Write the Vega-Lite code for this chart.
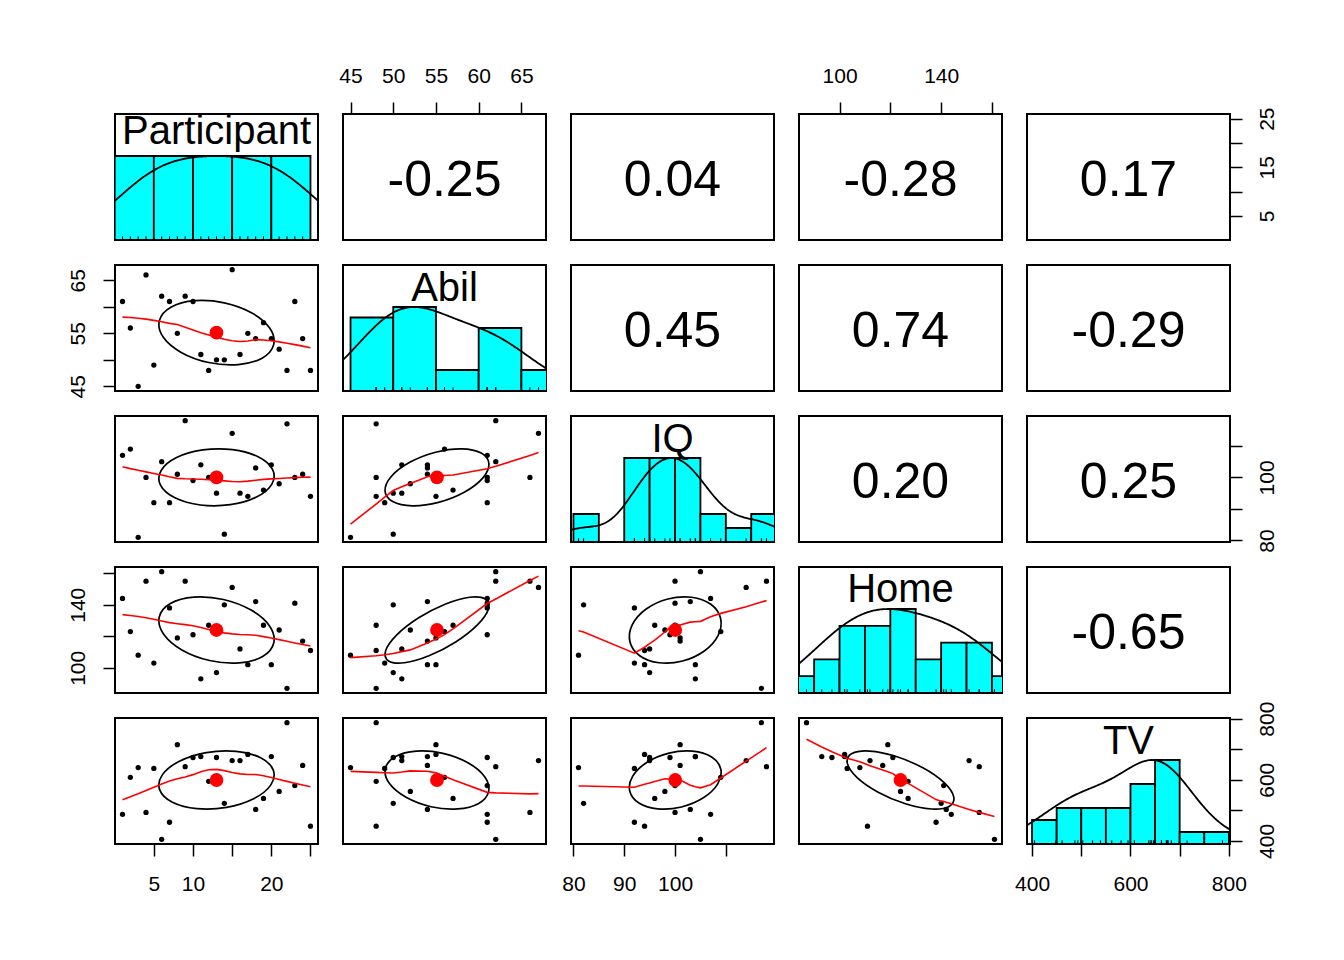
{
"$schema":"https://vega.github.io/schema/vega-lite/v6.json",
"background":"white",
"padding":{"left":65,"top":64,"right":5,"bottom":5},
"config":{"view":{"stroke":"black","strokeWidth":2},"font":"Liberation Sans",
 "axis":{"grid":false,"domain":false,"tickColor":"black","tickWidth":1.5,"tickSize":12,"labelFontSize":21,"labelColor":"black","labelFont":"Liberation Sans","labelOverlap":false,"labelFlush":false,"labelBound":false}},
"datasets":{
"d":[
{"Participant":1,"Abil":61,"IQ":107,"Home":144,"TV":487},
{"Participant":2,"Abil":56,"IQ":109,"Home":123,"TV":608},
{"Participant":3,"Abil":45,"IQ":81,"Home":108,"TV":640},
{"Participant":4,"Abil":66,"IQ":100,"Home":155,"TV":493},
{"Participant":5,"Abil":49,"IQ":92,"Home":103,"TV":637},
{"Participant":6,"Abil":62,"IQ":105,"Home":161,"TV":405},
{"Participant":7,"Abil":61,"IQ":92,"Home":138,"TV":461},
{"Participant":8,"Abil":55,"IQ":101,"Home":119,"TV":715},
{"Participant":9,"Abil":62,"IQ":118,"Home":155,"TV":643},
{"Participant":10,"Abil":61,"IQ":99,"Home":121,"TV":673},
{"Participant":11,"Abil":51,"IQ":104,"Home":93,"TV":676},
{"Participant":12,"Abil":48,"IQ":100,"Home":127,"TV":595},
{"Participant":13,"Abil":50,"IQ":95,"Home":97,"TV":673},
{"Participant":14,"Abil":50,"IQ":82,"Home":140,"TV":523},
{"Participant":15,"Abil":67,"IQ":114,"Home":151,"TV":663},
{"Participant":16,"Abil":51,"IQ":95,"Home":112,"TV":663},
{"Participant":17,"Abil":55,"IQ":94,"Home":102,"TV":683},
{"Participant":18,"Abil":54,"IQ":103,"Home":142,"TV":503},
{"Participant":19,"Abil":57,"IQ":96,"Home":127,"TV":539},
{"Participant":20,"Abil":54,"IQ":104,"Home":102,"TV":676},
{"Participant":21,"Abil":52,"IQ":98,"Home":124,"TV":562},
{"Participant":22,"Abil":48,"IQ":117,"Home":87,"TV":787},
{"Participant":23,"Abil":61,"IQ":100,"Home":141,"TV":581},
{"Participant":24,"Abil":54,"IQ":101,"Home":117,"TV":647},
{"Participant":25,"Abil":48,"IQ":94,"Home":111,"TV":448}
],
"hist":[
{"v":"Participant","b0":0,"b1":5,"n":5},{"v":"Participant","b0":5,"b1":10,"n":5},{"v":"Participant","b0":10,"b1":15,"n":5},{"v":"Participant","b0":15,"b1":20,"n":5},{"v":"Participant","b0":20,"b1":25,"n":5},
{"v":"Abil","b0":45,"b1":50,"n":7},{"v":"Abil","b0":50,"b1":55,"n":8},{"v":"Abil","b0":55,"b1":60,"n":2},{"v":"Abil","b0":60,"b1":65,"n":6},{"v":"Abil","b0":65,"b1":70,"n":2},
{"v":"IQ","b0":80,"b1":85,"n":2},{"v":"IQ","b0":90,"b1":95,"n":6},{"v":"IQ","b0":95,"b1":100,"n":6},{"v":"IQ","b0":100,"b1":105,"n":6},{"v":"IQ","b0":105,"b1":110,"n":2},{"v":"IQ","b0":110,"b1":115,"n":1},{"v":"IQ","b0":115,"b1":120,"n":2},
{"v":"Home","b0":80,"b1":90,"n":1},{"v":"Home","b0":90,"b1":100,"n":2},{"v":"Home","b0":100,"b1":110,"n":4},{"v":"Home","b0":110,"b1":120,"n":4},{"v":"Home","b0":120,"b1":130,"n":5},{"v":"Home","b0":130,"b1":140,"n":2},{"v":"Home","b0":140,"b1":150,"n":3},{"v":"Home","b0":150,"b1":160,"n":3},{"v":"Home","b0":160,"b1":170,"n":1},
{"v":"TV","b0":400,"b1":450,"n":2},{"v":"TV","b0":450,"b1":500,"n":3},{"v":"TV","b0":500,"b1":550,"n":3},{"v":"TV","b0":550,"b1":600,"n":3},{"v":"TV","b0":600,"b1":650,"n":5},{"v":"TV","b0":650,"b1":700,"n":7},{"v":"TV","b0":700,"b1":750,"n":1},{"v":"TV","b0":750,"b1":800,"n":1}
],
"lab":[
{"p":"PA","t":"-0.25"},{"p":"PI","t":"0.04"},{"p":"PH","t":"-0.28"},{"p":"PT","t":"0.17"},{"p":"AI","t":"0.45"},{"p":"AH","t":"0.74"},{"p":"AT","t":"-0.29"},{"p":"IH","t":"0.20"},{"p":"IT","t":"0.25"},{"p":"HT","t":"-0.65"},
{"p":"Participant","t":"Participant"},{"p":"Abil","t":"Abil"},{"p":"IQ","t":"IQ"},{"p":"Home","t":"Home"},{"p":"TV","t":"TV"}
],
"ell":[
{"p":"PA","k":0,"Participant":17.51,"Abil":58.84},{"p":"PA","k":1,"Participant":13.99,"Abil":60.75},{"p":"PA","k":2,"Participant":10.21,"Abil":61.15},{"p":"PA","k":3,"Participant":7.18,"Abil":59.93},{"p":"PA","k":4,"Participant":5.71,"Abil":57.42},{"p":"PA","k":5,"Participant":6.19,"Abil":54.30},{"p":"PA","k":6,"Participant":8.49,"Abil":51.40},{"p":"PA","k":7,"Participant":12.01,"Abil":49.49},{"p":"PA","k":8,"Participant":15.79,"Abil":49.10},{"p":"PA","k":9,"Participant":18.82,"Abil":50.31},{"p":"PA","k":10,"Participant":20.29,"Abil":52.82},{"p":"PA","k":11,"Participant":19.81,"Abil":55.94},
{"p":"PI","k":0,"Participant":18.31,"IQ":106.56},{"p":"PI","k":1,"Participant":15.05,"IQ":108.82},{"p":"PI","k":2,"Participant":11.24,"IQ":108.72},{"p":"PI","k":3,"Participant":7.90,"IQ":106.30},{"p":"PI","k":4,"Participant":5.93,"IQ":102.20},{"p":"PI","k":5,"Participant":5.85,"IQ":97.53},{"p":"PI","k":6,"Participant":7.69,"IQ":93.52},{"p":"PI","k":7,"Participant":10.95,"IQ":91.26},{"p":"PI","k":8,"Participant":14.76,"IQ":91.36},{"p":"PI","k":9,"Participant":18.10,"IQ":93.78},{"p":"PI","k":10,"Participant":20.07,"IQ":97.88},{"p":"PI","k":11,"Participant":20.15,"IQ":102.55},
{"p":"AI","k":0,"Abil":60.30,"IQ":107.74},{"p":"AI","k":1,"Abil":58.01,"IQ":109.08},{"p":"AI","k":2,"Abil":54.95,"IQ":107.99},{"p":"AI","k":3,"Abil":51.93,"IQ":104.78},{"p":"AI","k":4,"Abil":49.77,"IQ":100.30},{"p":"AI","k":5,"Abil":49.04,"IQ":95.74},{"p":"AI","k":6,"Abil":49.94,"IQ":92.34},{"p":"AI","k":7,"Abil":52.23,"IQ":91.00},{"p":"AI","k":8,"Abil":55.29,"IQ":92.09},{"p":"AI","k":9,"Abil":58.31,"IQ":95.30},{"p":"AI","k":10,"Abil":60.47,"IQ":99.78},{"p":"AI","k":11,"Abil":61.20,"IQ":104.34},
{"p":"PH","k":0,"Participant":17.42,"Home":136.62},{"p":"PH","k":1,"Participant":13.88,"Home":143.35},{"p":"PH","k":2,"Participant":10.11,"Home":144.89},{"p":"PH","k":3,"Participant":7.11,"Home":140.83},{"p":"PH","k":4,"Participant":5.69,"Home":132.26},{"p":"PH","k":5,"Participant":6.23,"Home":121.48},{"p":"PH","k":6,"Participant":8.58,"Home":111.38},{"p":"PH","k":7,"Participant":12.12,"Home":104.65},{"p":"PH","k":8,"Participant":15.89,"Home":103.11},{"p":"PH","k":9,"Participant":18.89,"Home":107.17},{"p":"PH","k":10,"Participant":20.31,"Home":115.74},{"p":"PH","k":11,"Participant":19.77,"Home":126.52},
{"p":"AH","k":0,"Abil":60.79,"Home":143.62},{"p":"AH","k":1,"Abil":58.94,"Home":144.79},{"p":"AH","k":2,"Abil":56.06,"Home":140.38},{"p":"AH","k":3,"Abil":52.93,"Home":131.59},{"p":"AH","k":4,"Abil":50.39,"Home":120.76},{"p":"AH","k":5,"Abil":49.11,"Home":110.80},{"p":"AH","k":6,"Abil":49.45,"Home":104.38},{"p":"AH","k":7,"Abil":51.31,"Home":103.21},{"p":"AH","k":8,"Abil":54.18,"Home":107.62},{"p":"AH","k":9,"Abil":57.31,"Home":116.41},{"p":"AH","k":10,"Abil":59.85,"Home":127.24},{"p":"AH","k":11,"Abil":61.13,"Home":137.20},
{"p":"IH","k":0,"IQ":107.04,"Home":140.30},{"p":"IH","k":1,"IQ":103.25,"Home":144.77},{"p":"IH","k":2,"IQ":98.59,"Home":143.67},{"p":"IH","k":3,"IQ":94.32,"Home":137.31},{"p":"IH","k":4,"IQ":91.59,"Home":127.38},{"p":"IH","k":5,"IQ":91.12,"Home":116.54},{"p":"IH","k":6,"IQ":93.04,"Home":107.70},{"p":"IH","k":7,"IQ":96.83,"Home":103.23},{"p":"IH","k":8,"IQ":101.49,"Home":104.33},{"p":"IH","k":9,"IQ":105.76,"Home":110.69},{"p":"IH","k":10,"IQ":108.49,"Home":120.63},{"p":"IH","k":11,"IQ":108.96,"Home":131.46},
{"p":"PT","k":0,"Participant":18.63,"TV":672.1},{"p":"PT","k":1,"Participant":15.51,"TV":693.1},{"p":"PT","k":2,"Participant":11.71,"TV":688.9},{"p":"PT","k":3,"Participant":8.26,"TV":660.6},{"p":"PT","k":4,"Participant":6.08,"TV":616.0},{"p":"PT","k":5,"Participant":5.75,"TV":566.8},{"p":"PT","k":6,"Participant":7.37,"TV":526.3},{"p":"PT","k":7,"Participant":10.50,"TV":505.4},{"p":"PT","k":8,"Participant":14.29,"TV":509.6},{"p":"PT","k":9,"Participant":17.74,"TV":537.9},{"p":"PT","k":10,"Participant":19.92,"TV":582.5},{"p":"PT","k":11,"Participant":20.25,"TV":631.7},
{"p":"AT","k":0,"Abil":58.74,"TV":656.0},{"p":"AT","k":1,"Abil":55.82,"TV":686.7},{"p":"AT","k":2,"Abil":52.70,"TV":693.9},{"p":"AT","k":3,"Abil":50.24,"TV":675.8},{"p":"AT","k":4,"Abil":49.08,"TV":637.1},{"p":"AT","k":5,"Abil":49.54,"TV":588.3},{"p":"AT","k":6,"Abil":51.50,"TV":542.5},{"p":"AT","k":7,"Abil":54.42,"TV":511.8},{"p":"AT","k":8,"Abil":57.54,"TV":504.6},{"p":"AT","k":9,"Abil":60.00,"TV":522.7},{"p":"AT","k":10,"Abil":61.16,"TV":561.4},{"p":"AT","k":11,"Abil":60.70,"TV":610.1},
{"p":"IT","k":0,"IQ":107.19,"TV":674.6},{"p":"IT","k":1,"IQ":103.46,"TV":693.7},{"p":"IT","k":2,"IQ":98.82,"TV":687.5},{"p":"IT","k":3,"IQ":94.50,"TV":657.6},{"p":"IT","k":4,"IQ":91.67,"TV":612.1},{"p":"IT","k":5,"IQ":91.08,"TV":563.2},{"p":"IT","k":6,"IQ":92.89,"TV":523.9},{"p":"IT","k":7,"IQ":96.62,"TV":504.8},{"p":"IT","k":8,"IQ":101.26,"TV":511.0},{"p":"IT","k":9,"IQ":105.58,"TV":540.9},{"p":"IT","k":10,"IQ":108.41,"TV":586.4},{"p":"IT","k":11,"IQ":109.00,"TV":635.3},
{"p":"HT","k":0,"Home":132.80,"TV":639.1},{"p":"HT","k":1,"Home":122.07,"TV":677.1},{"p":"HT","k":2,"Home":111.85,"TV":694.1},{"p":"HT","k":3,"Home":104.89,"TV":685.8},{"p":"HT","k":4,"Home":103.05,"TV":654.3},{"p":"HT","k":5,"Home":106.82,"TV":608.0},{"p":"HT","k":6,"Home":115.20,"TV":559.4},{"p":"HT","k":7,"Home":125.93,"TV":521.4},{"p":"HT","k":8,"Home":136.15,"TV":504.3},{"p":"HT","k":9,"Home":143.11,"TV":512.7},{"p":"HT","k":10,"Home":144.95,"TV":544.2},{"p":"HT","k":11,"Home":141.18,"TV":590.5}
]
},
"columns":5,
"spacing":25,
"bounds":"flush",
"concat":[
{"width":203,"height":126,"resolve":{"scale":{"y":"independent"}},"layer":[
 {"layer":[
  {"data":{"name":"hist"},"transform":[{"filter":"datum.v=='Participant'"}],"mark":{"type":"rect","fill":"#00FFFF","stroke":"black","strokeWidth":1.8,"clip":true},"encoding":{"x":{"field":"b0","type":"quantitative","scale":{"domain":[0.04,25.96],"nice":false,"zero":false},"axis":null},"x2":{"field":"b1"},"y":{"field":"n","type":"quantitative","scale":{"domain":[0,7.5],"nice":false,"zero":true},"axis":null},"y2":{"datum":0}}},
  {"data":{"name":"d"},"mark":{"type":"rule","color":"black","strokeWidth":1,"clip":true},"encoding":{"x":{"field":"Participant","type":"quantitative","scale":{"domain":[0.04,25.96],"nice":false,"zero":false},"axis":null},"y":{"datum":0,"type":"quantitative","scale":{"domain":[0,7.5],"nice":false,"zero":true},"axis":null},"y2":{"datum":0.225}}}
 ]},
 {"data":{"name":"d"},"transform":[{"density":"Participant","bandwidth":4.918,"extent":[0.04,25.96],"steps":200,"as":["Participant","dens"]}],"mark":{"type":"line","color":"black","strokeWidth":1.8,"clip":true},"encoding":{"x":{"field":"Participant","type":"quantitative","scale":{"domain":[0.04,25.96],"nice":false,"zero":false},"axis":null},"y":{"field":"dens","type":"quantitative","scale":{"zero":true,"nice":false,"range":[126,42]},"axis":null}}},
 {"data":{"name":"lab"},"transform":[{"filter":"datum.p=='Participant'"}],"mark":{"type":"text","fontSize":40,"baseline":"alphabetic","dy":-33,"color":"black"},"encoding":{"text":{"field":"t"}}}
]},
{"width":203,"height":126,"layer":[
 {"data":{"name":"d"},"mark":{"type":"point","opacity":0},"encoding":{"x":{"field":"Abil","type":"quantitative","scale":{"domain":[44.12,67.88],"nice":false,"zero":false},"axis":{"orient":"top","values":[45,50,55,60,65],"title":null,"labelPadding":16}}}},
 {"data":{"name":"lab"},"transform":[{"filter":"datum.p=='PA'"}],"mark":{"type":"text","fontSize":50,"baseline":"alphabetic","dy":19,"color":"black"},"encoding":{"text":{"field":"t"}}}
]},
{"width":203,"height":126,"layer":[
 {"data":{"name":"d"},"mark":{"type":"point","opacity":0},"encoding":{"x":{"field":"IQ","type":"quantitative","scale":{"domain":[79.52,119.48],"nice":false,"zero":false},"axis":null}}},
 {"data":{"name":"lab"},"transform":[{"filter":"datum.p=='PI'"}],"mark":{"type":"text","fontSize":50,"baseline":"alphabetic","dy":19,"color":"black"},"encoding":{"text":{"field":"t"}}}
]},
{"width":203,"height":126,"layer":[
 {"data":{"name":"d"},"mark":{"type":"point","opacity":0},"encoding":{"x":{"field":"Home","type":"quantitative","scale":{"domain":[84.04,163.96],"nice":false,"zero":false},"axis":{"orient":"top","values":[100,120,140,160],"labelExpr":"datum.value==100||datum.value==140?datum.label:''","title":null,"labelPadding":16}}}},
 {"data":{"name":"lab"},"transform":[{"filter":"datum.p=='PH'"}],"mark":{"type":"text","fontSize":50,"baseline":"alphabetic","dy":19,"color":"black"},"encoding":{"text":{"field":"t"}}}
]},
{"width":203,"height":126,"layer":[
 {"data":{"name":"d"},"mark":{"type":"point","opacity":0},"encoding":{"y":{"field":"Participant","type":"quantitative","scale":{"domain":[0.04,25.96],"nice":false,"zero":false},"axis":{"orient":"right","values":[5,10,15,20,25],"labelExpr":"datum.value%10==5?datum.label:''","labelAngle":270,"labelAlign":"center","labelBaseline":"top","title":null,"labelPadding":14}}}},
 {"data":{"name":"lab"},"transform":[{"filter":"datum.p=='PT'"}],"mark":{"type":"text","fontSize":50,"baseline":"alphabetic","dy":19,"color":"black"},"encoding":{"text":{"field":"t"}}}
]},

{"width":203,"height":126,
 "encoding":{"x":{"field":"Participant","type":"quantitative","scale":{"domain":[0.04,25.96],"nice":false,"zero":false},"axis":null},"y":{"field":"Abil","type":"quantitative","scale":{"domain":[44.12,67.88],"nice":false,"zero":false},"axis":{"orient":"left","values":[45,50,55,60,65],"labelExpr":"datum.value%10==5?datum.label:''","labelAngle":270,"labelAlign":"center","labelBaseline":"bottom","title":null,"labelPadding":15}}},
 "layer":[
  {"data":{"name":"d"},"mark":{"type":"circle","color":"black","size":28,"opacity":1}},
  {"data":{"name":"ell"},"transform":[{"filter":"datum.p=='PA'"}],"mark":{"type":"line","color":"black","strokeWidth":1.7,"interpolate":"cardinal-closed"},"encoding":{"order":{"field":"k","type":"quantitative"}}},
  {"data":{"name":"d"},"transform":[{"loess":"Abil","on":"Participant","bandwidth":0.6667}],"mark":{"type":"line","color":"red","strokeWidth":1.6}},
  {"data":{"name":"d"},"mark":{"type":"circle","color":"red","size":190,"opacity":1},"encoding":{"x":{"aggregate":"mean","field":"Participant","type":"quantitative","scale":{"domain":[0.04,25.96],"nice":false,"zero":false},"axis":null},"y":{"aggregate":"mean","field":"Abil","type":"quantitative","scale":{"domain":[44.12,67.88],"nice":false,"zero":false},"axis":{"orient":"left","values":[45,50,55,60,65],"labelExpr":"datum.value%10==5?datum.label:''","labelAngle":270,"labelAlign":"center","labelBaseline":"bottom","title":null,"labelPadding":15}}}}
 ]},
{"width":203,"height":126,"resolve":{"scale":{"y":"independent"}},"layer":[
 {"layer":[
  {"data":{"name":"hist"},"transform":[{"filter":"datum.v=='Abil'"}],"mark":{"type":"rect","fill":"#00FFFF","stroke":"black","strokeWidth":1.8,"clip":true},"encoding":{"x":{"field":"b0","type":"quantitative","scale":{"domain":[44.12,67.88],"nice":false,"zero":false},"axis":null},"x2":{"field":"b1"},"y":{"field":"n","type":"quantitative","scale":{"domain":[0,12],"nice":false,"zero":true},"axis":null},"y2":{"datum":0}}},
  {"data":{"name":"d"},"mark":{"type":"rule","color":"black","strokeWidth":1,"clip":true},"encoding":{"x":{"field":"Abil","type":"quantitative","scale":{"domain":[44.12,67.88],"nice":false,"zero":false},"axis":null},"y":{"datum":0,"type":"quantitative","scale":{"domain":[0,12],"nice":false,"zero":true},"axis":null},"y2":{"datum":0.36}}}
 ]},
 {"data":{"name":"d"},"transform":[{"density":"Abil","bandwidth":4.063,"extent":[44.12,67.88],"steps":200,"as":["Abil","dens"]}],"mark":{"type":"line","color":"black","strokeWidth":1.8,"clip":true},"encoding":{"x":{"field":"Abil","type":"quantitative","scale":{"domain":[44.12,67.88],"nice":false,"zero":false},"axis":null},"y":{"field":"dens","type":"quantitative","scale":{"zero":true,"nice":false,"range":[126,42]},"axis":null}}},
 {"data":{"name":"lab"},"transform":[{"filter":"datum.p=='Abil'"}],"mark":{"type":"text","fontSize":40,"baseline":"alphabetic","dy":-27,"color":"black"},"encoding":{"text":{"field":"t"}}}
]},
{"width":203,"height":126,"layer":[
 {"data":{"name":"d"},"mark":{"type":"point","opacity":0},"encoding":{"x":{"field":"Home","type":"quantitative","scale":{"domain":[84.04,163.96],"nice":false,"zero":false},"axis":null}}},
 {"data":{"name":"lab"},"transform":[{"filter":"datum.p=='AI'"}],"mark":{"type":"text","fontSize":50,"baseline":"alphabetic","dy":19,"color":"black"},"encoding":{"text":{"field":"t"}}}
]},
{"width":203,"height":126,"layer":[
 {"data":{"name":"d"},"mark":{"type":"point","opacity":0},"encoding":{"x":{"field":"Home","type":"quantitative","scale":{"domain":[84.04,163.96],"nice":false,"zero":false},"axis":null}}},
 {"data":{"name":"lab"},"transform":[{"filter":"datum.p=='AH'"}],"mark":{"type":"text","fontSize":50,"baseline":"alphabetic","dy":19,"color":"black"},"encoding":{"text":{"field":"t"}}}
]},
{"width":203,"height":126,"layer":[
 {"data":{"name":"d"},"mark":{"type":"point","opacity":0},"encoding":{"x":{"field":"TV","type":"quantitative","scale":{"domain":[389.72,802.28],"nice":false,"zero":false},"axis":null}}},
 {"data":{"name":"lab"},"transform":[{"filter":"datum.p=='AT'"}],"mark":{"type":"text","fontSize":50,"baseline":"alphabetic","dy":19,"color":"black"},"encoding":{"text":{"field":"t"}}}
]},

{"width":203,"height":126,
 "encoding":{"x":{"field":"Participant","type":"quantitative","scale":{"domain":[0.04,25.96],"nice":false,"zero":false},"axis":null},"y":{"field":"IQ","type":"quantitative","scale":{"domain":[79.52,119.48],"nice":false,"zero":false},"axis":null}},
 "layer":[
  {"data":{"name":"d"},"mark":{"type":"circle","color":"black","size":28,"opacity":1}},
  {"data":{"name":"ell"},"transform":[{"filter":"datum.p=='PI'"}],"mark":{"type":"line","color":"black","strokeWidth":1.7,"interpolate":"cardinal-closed"},"encoding":{"order":{"field":"k","type":"quantitative"}}},
  {"data":{"name":"d"},"transform":[{"loess":"IQ","on":"Participant","bandwidth":0.6667}],"mark":{"type":"line","color":"red","strokeWidth":1.6}},
  {"data":{"name":"d"},"mark":{"type":"circle","color":"red","size":190,"opacity":1},"encoding":{"x":{"aggregate":"mean","field":"Participant","type":"quantitative","scale":{"domain":[0.04,25.96],"nice":false,"zero":false},"axis":null},"y":{"aggregate":"mean","field":"IQ","type":"quantitative","scale":{"domain":[79.52,119.48],"nice":false,"zero":false},"axis":null}}}
 ]},
{"width":203,"height":126,
 "encoding":{"x":{"field":"Abil","type":"quantitative","scale":{"domain":[44.12,67.88],"nice":false,"zero":false},"axis":null},"y":{"field":"IQ","type":"quantitative","scale":{"domain":[79.52,119.48],"nice":false,"zero":false},"axis":null}},
 "layer":[
  {"data":{"name":"d"},"mark":{"type":"circle","color":"black","size":28,"opacity":1}},
  {"data":{"name":"ell"},"transform":[{"filter":"datum.p=='AI'"}],"mark":{"type":"line","color":"black","strokeWidth":1.7,"interpolate":"cardinal-closed"},"encoding":{"order":{"field":"k","type":"quantitative"}}},
  {"data":{"name":"d"},"transform":[{"loess":"IQ","on":"Abil","bandwidth":0.6667}],"mark":{"type":"line","color":"red","strokeWidth":1.6}},
  {"data":{"name":"d"},"mark":{"type":"circle","color":"red","size":190,"opacity":1},"encoding":{"x":{"aggregate":"mean","field":"Abil","type":"quantitative","scale":{"domain":[44.12,67.88],"nice":false,"zero":false},"axis":null},"y":{"aggregate":"mean","field":"IQ","type":"quantitative","scale":{"domain":[79.52,119.48],"nice":false,"zero":false},"axis":null}}}
 ]},
{"width":203,"height":126,"resolve":{"scale":{"y":"independent"}},"layer":[
 {"layer":[
  {"data":{"name":"hist"},"transform":[{"filter":"datum.v=='IQ'"}],"mark":{"type":"rect","fill":"#00FFFF","stroke":"black","strokeWidth":1.8,"clip":true},"encoding":{"x":{"field":"b0","type":"quantitative","scale":{"domain":[79.52,119.48],"nice":false,"zero":false},"axis":null},"x2":{"field":"b1"},"y":{"field":"n","type":"quantitative","scale":{"domain":[0,9],"nice":false,"zero":true},"axis":null},"y2":{"datum":0}}},
  {"data":{"name":"d"},"mark":{"type":"rule","color":"black","strokeWidth":1,"clip":true},"encoding":{"x":{"field":"IQ","type":"quantitative","scale":{"domain":[79.52,119.48],"nice":false,"zero":false},"axis":null},"y":{"datum":0,"type":"quantitative","scale":{"domain":[0,9],"nice":false,"zero":true},"axis":null},"y2":{"datum":0.27}}}
 ]},
 {"data":{"name":"d"},"transform":[{"density":"IQ","bandwidth":4.488,"extent":[79.52,119.48],"steps":200,"as":["IQ","dens"]}],"mark":{"type":"line","color":"black","strokeWidth":1.8,"clip":true},"encoding":{"x":{"field":"IQ","type":"quantitative","scale":{"domain":[79.52,119.48],"nice":false,"zero":false},"axis":null},"y":{"field":"dens","type":"quantitative","scale":{"zero":true,"nice":false,"range":[126,42]},"axis":null}}},
 {"data":{"name":"lab"},"transform":[{"filter":"datum.p=='IQ'"}],"mark":{"type":"text","fontSize":40,"baseline":"alphabetic","dy":-27,"color":"black"},"encoding":{"text":{"field":"t"}}}
]},
{"width":203,"height":126,"layer":[
 {"data":{"name":"d"},"mark":{"type":"point","opacity":0},"encoding":{"x":{"field":"Home","type":"quantitative","scale":{"domain":[84.04,163.96],"nice":false,"zero":false},"axis":null}}},
 {"data":{"name":"lab"},"transform":[{"filter":"datum.p=='IH'"}],"mark":{"type":"text","fontSize":50,"baseline":"alphabetic","dy":19,"color":"black"},"encoding":{"text":{"field":"t"}}}
]},
{"width":203,"height":126,"layer":[
 {"data":{"name":"d"},"mark":{"type":"point","opacity":0},"encoding":{"y":{"field":"IQ","type":"quantitative","scale":{"domain":[79.52,119.48],"nice":false,"zero":false},"axis":{"orient":"right","values":[80,90,100,110],"labelExpr":"datum.value%20==0?datum.label:''","labelAngle":270,"labelAlign":"center","labelBaseline":"top","title":null,"labelPadding":14}}}},
 {"data":{"name":"lab"},"transform":[{"filter":"datum.p=='IT'"}],"mark":{"type":"text","fontSize":50,"baseline":"alphabetic","dy":19,"color":"black"},"encoding":{"text":{"field":"t"}}}
]},

{"width":203,"height":126,
 "encoding":{"x":{"field":"Participant","type":"quantitative","scale":{"domain":[0.04,25.96],"nice":false,"zero":false},"axis":null},"y":{"field":"Home","type":"quantitative","scale":{"domain":[84.04,163.96],"nice":false,"zero":false},"axis":{"orient":"left","values":[100,120,140,160],"labelExpr":"datum.value==100||datum.value==140?datum.label:''","labelAngle":270,"labelAlign":"center","labelBaseline":"bottom","title":null,"labelPadding":15}}},
 "layer":[
  {"data":{"name":"d"},"mark":{"type":"circle","color":"black","size":28,"opacity":1}},
  {"data":{"name":"ell"},"transform":[{"filter":"datum.p=='PH'"}],"mark":{"type":"line","color":"black","strokeWidth":1.7,"interpolate":"cardinal-closed"},"encoding":{"order":{"field":"k","type":"quantitative"}}},
  {"data":{"name":"d"},"transform":[{"loess":"Home","on":"Participant","bandwidth":0.6667}],"mark":{"type":"line","color":"red","strokeWidth":1.6}},
  {"data":{"name":"d"},"mark":{"type":"circle","color":"red","size":190,"opacity":1},"encoding":{"x":{"aggregate":"mean","field":"Participant","type":"quantitative","scale":{"domain":[0.04,25.96],"nice":false,"zero":false},"axis":null},"y":{"aggregate":"mean","field":"Home","type":"quantitative","scale":{"domain":[84.04,163.96],"nice":false,"zero":false},"axis":{"orient":"left","values":[100,120,140,160],"labelExpr":"datum.value==100||datum.value==140?datum.label:''","labelAngle":270,"labelAlign":"center","labelBaseline":"bottom","title":null,"labelPadding":15}}}}
 ]},
{"width":203,"height":126,
 "encoding":{"x":{"field":"Abil","type":"quantitative","scale":{"domain":[44.12,67.88],"nice":false,"zero":false},"axis":null},"y":{"field":"Home","type":"quantitative","scale":{"domain":[84.04,163.96],"nice":false,"zero":false},"axis":null}},
 "layer":[
  {"data":{"name":"d"},"mark":{"type":"circle","color":"black","size":28,"opacity":1}},
  {"data":{"name":"ell"},"transform":[{"filter":"datum.p=='AH'"}],"mark":{"type":"line","color":"black","strokeWidth":1.7,"interpolate":"cardinal-closed"},"encoding":{"order":{"field":"k","type":"quantitative"}}},
  {"data":{"name":"d"},"transform":[{"loess":"Home","on":"Abil","bandwidth":0.6667}],"mark":{"type":"line","color":"red","strokeWidth":1.6}},
  {"data":{"name":"d"},"mark":{"type":"circle","color":"red","size":190,"opacity":1},"encoding":{"x":{"aggregate":"mean","field":"Abil","type":"quantitative","scale":{"domain":[44.12,67.88],"nice":false,"zero":false},"axis":null},"y":{"aggregate":"mean","field":"Home","type":"quantitative","scale":{"domain":[84.04,163.96],"nice":false,"zero":false},"axis":null}}}
 ]},
{"width":203,"height":126,
 "encoding":{"x":{"field":"IQ","type":"quantitative","scale":{"domain":[79.52,119.48],"nice":false,"zero":false},"axis":null},"y":{"field":"Home","type":"quantitative","scale":{"domain":[84.04,163.96],"nice":false,"zero":false},"axis":null}},
 "layer":[
  {"data":{"name":"d"},"mark":{"type":"circle","color":"black","size":28,"opacity":1}},
  {"data":{"name":"ell"},"transform":[{"filter":"datum.p=='IH'"}],"mark":{"type":"line","color":"black","strokeWidth":1.7,"interpolate":"cardinal-closed"},"encoding":{"order":{"field":"k","type":"quantitative"}}},
  {"data":{"name":"d"},"transform":[{"loess":"Home","on":"IQ","bandwidth":0.6667}],"mark":{"type":"line","color":"red","strokeWidth":1.6}},
  {"data":{"name":"d"},"mark":{"type":"circle","color":"red","size":190,"opacity":1},"encoding":{"x":{"aggregate":"mean","field":"IQ","type":"quantitative","scale":{"domain":[79.52,119.48],"nice":false,"zero":false},"axis":null},"y":{"aggregate":"mean","field":"Home","type":"quantitative","scale":{"domain":[84.04,163.96],"nice":false,"zero":false},"axis":null}}}
 ]},
{"width":203,"height":126,"resolve":{"scale":{"y":"independent"}},"layer":[
 {"layer":[
  {"data":{"name":"hist"},"transform":[{"filter":"datum.v=='Home'"}],"mark":{"type":"rect","fill":"#00FFFF","stroke":"black","strokeWidth":1.8,"clip":true},"encoding":{"x":{"field":"b0","type":"quantitative","scale":{"domain":[84.04,163.96],"nice":false,"zero":false},"axis":null},"x2":{"field":"b1"},"y":{"field":"n","type":"quantitative","scale":{"domain":[0,7.5],"nice":false,"zero":true},"axis":null},"y2":{"datum":0}}},
  {"data":{"name":"d"},"mark":{"type":"rule","color":"black","strokeWidth":1,"clip":true},"encoding":{"x":{"field":"Home","type":"quantitative","scale":{"domain":[84.04,163.96],"nice":false,"zero":false},"axis":null},"y":{"datum":0,"type":"quantitative","scale":{"domain":[0,7.5],"nice":false,"zero":true},"axis":null},"y2":{"datum":0.225}}}
 ]},
 {"data":{"name":"d"},"transform":[{"density":"Home","bandwidth":14.06,"extent":[84.04,163.96],"steps":200,"as":["Home","dens"]}],"mark":{"type":"line","color":"black","strokeWidth":1.8,"clip":true},"encoding":{"x":{"field":"Home","type":"quantitative","scale":{"domain":[84.04,163.96],"nice":false,"zero":false},"axis":null},"y":{"field":"dens","type":"quantitative","scale":{"zero":true,"nice":false,"range":[126,42]},"axis":null}}},
 {"data":{"name":"lab"},"transform":[{"filter":"datum.p=='Home'"}],"mark":{"type":"text","fontSize":40,"baseline":"alphabetic","dy":-28,"color":"black"},"encoding":{"text":{"field":"t"}}}
]},
{"width":203,"height":126,"layer":[
 {"data":{"name":"d"},"mark":{"type":"point","opacity":0},"encoding":{"x":{"field":"TV","type":"quantitative","scale":{"domain":[389.72,802.28],"nice":false,"zero":false},"axis":null}}},
 {"data":{"name":"lab"},"transform":[{"filter":"datum.p=='HT'"}],"mark":{"type":"text","fontSize":50,"baseline":"alphabetic","dy":19,"color":"black"},"encoding":{"text":{"field":"t"}}}
]},

{"width":203,"height":126,
 "encoding":{"x":{"field":"Participant","type":"quantitative","scale":{"domain":[0.04,25.96],"nice":false,"zero":false},"axis":{"orient":"bottom","values":[5,10,15,20,25],"labelExpr":"datum.value==5||datum.value==10||datum.value==20?datum.label:''","title":null,"labelPadding":17}},"y":{"field":"TV","type":"quantitative","scale":{"domain":[389.72,802.28],"nice":false,"zero":false},"axis":null}},
 "layer":[
  {"data":{"name":"d"},"mark":{"type":"circle","color":"black","size":28,"opacity":1}},
  {"data":{"name":"ell"},"transform":[{"filter":"datum.p=='PT'"}],"mark":{"type":"line","color":"black","strokeWidth":1.7,"interpolate":"cardinal-closed"},"encoding":{"order":{"field":"k","type":"quantitative"}}},
  {"data":{"name":"d"},"transform":[{"loess":"TV","on":"Participant","bandwidth":0.6667}],"mark":{"type":"line","color":"red","strokeWidth":1.6}},
  {"data":{"name":"d"},"mark":{"type":"circle","color":"red","size":190,"opacity":1},"encoding":{"x":{"aggregate":"mean","field":"Participant","type":"quantitative","scale":{"domain":[0.04,25.96],"nice":false,"zero":false},"axis":{"orient":"bottom","values":[5,10,15,20,25],"labelExpr":"datum.value==5||datum.value==10||datum.value==20?datum.label:''","title":null,"labelPadding":17}},"y":{"aggregate":"mean","field":"TV","type":"quantitative","scale":{"domain":[389.72,802.28],"nice":false,"zero":false},"axis":null}}}
 ]},
{"width":203,"height":126,
 "encoding":{"x":{"field":"Abil","type":"quantitative","scale":{"domain":[44.12,67.88],"nice":false,"zero":false},"axis":null},"y":{"field":"TV","type":"quantitative","scale":{"domain":[389.72,802.28],"nice":false,"zero":false},"axis":null}},
 "layer":[
  {"data":{"name":"d"},"mark":{"type":"circle","color":"black","size":28,"opacity":1}},
  {"data":{"name":"ell"},"transform":[{"filter":"datum.p=='AT'"}],"mark":{"type":"line","color":"black","strokeWidth":1.7,"interpolate":"cardinal-closed"},"encoding":{"order":{"field":"k","type":"quantitative"}}},
  {"data":{"name":"d"},"transform":[{"loess":"TV","on":"Abil","bandwidth":0.6667}],"mark":{"type":"line","color":"red","strokeWidth":1.6}},
  {"data":{"name":"d"},"mark":{"type":"circle","color":"red","size":190,"opacity":1},"encoding":{"x":{"aggregate":"mean","field":"Abil","type":"quantitative","scale":{"domain":[44.12,67.88],"nice":false,"zero":false},"axis":null},"y":{"aggregate":"mean","field":"TV","type":"quantitative","scale":{"domain":[389.72,802.28],"nice":false,"zero":false},"axis":null}}}
 ]},
{"width":203,"height":126,
 "encoding":{"x":{"field":"IQ","type":"quantitative","scale":{"domain":[79.52,119.48],"nice":false,"zero":false},"axis":{"orient":"bottom","values":[80,90,100,110],"labelExpr":"datum.value<=100?datum.label:''","title":null,"labelPadding":17}},"y":{"field":"TV","type":"quantitative","scale":{"domain":[389.72,802.28],"nice":false,"zero":false},"axis":null}},
 "layer":[
  {"data":{"name":"d"},"mark":{"type":"circle","color":"black","size":28,"opacity":1}},
  {"data":{"name":"ell"},"transform":[{"filter":"datum.p=='IT'"}],"mark":{"type":"line","color":"black","strokeWidth":1.7,"interpolate":"cardinal-closed"},"encoding":{"order":{"field":"k","type":"quantitative"}}},
  {"data":{"name":"d"},"transform":[{"loess":"TV","on":"IQ","bandwidth":0.6667}],"mark":{"type":"line","color":"red","strokeWidth":1.6}},
  {"data":{"name":"d"},"mark":{"type":"circle","color":"red","size":190,"opacity":1},"encoding":{"x":{"aggregate":"mean","field":"IQ","type":"quantitative","scale":{"domain":[79.52,119.48],"nice":false,"zero":false},"axis":{"orient":"bottom","values":[80,90,100,110],"labelExpr":"datum.value<=100?datum.label:''","title":null,"labelPadding":17}},"y":{"aggregate":"mean","field":"TV","type":"quantitative","scale":{"domain":[389.72,802.28],"nice":false,"zero":false},"axis":null}}}
 ]},
{"width":203,"height":126,
 "encoding":{"x":{"field":"Home","type":"quantitative","scale":{"domain":[84.04,163.96],"nice":false,"zero":false},"axis":null},"y":{"field":"TV","type":"quantitative","scale":{"domain":[389.72,802.28],"nice":false,"zero":false},"axis":null}},
 "layer":[
  {"data":{"name":"d"},"mark":{"type":"circle","color":"black","size":28,"opacity":1}},
  {"data":{"name":"ell"},"transform":[{"filter":"datum.p=='HT'"}],"mark":{"type":"line","color":"black","strokeWidth":1.7,"interpolate":"cardinal-closed"},"encoding":{"order":{"field":"k","type":"quantitative"}}},
  {"data":{"name":"d"},"transform":[{"loess":"TV","on":"Home","bandwidth":0.6667}],"mark":{"type":"line","color":"red","strokeWidth":1.6}},
  {"data":{"name":"d"},"mark":{"type":"circle","color":"red","size":190,"opacity":1},"encoding":{"x":{"aggregate":"mean","field":"Home","type":"quantitative","scale":{"domain":[84.04,163.96],"nice":false,"zero":false},"axis":null},"y":{"aggregate":"mean","field":"TV","type":"quantitative","scale":{"domain":[389.72,802.28],"nice":false,"zero":false},"axis":null}}}
 ]},
{"width":203,"height":126,"resolve":{"scale":{"y":"independent"}},"layer":[
 {"layer":[
  {"data":{"name":"hist"},"transform":[{"filter":"datum.v=='TV'"}],"mark":{"type":"rect","fill":"#00FFFF","stroke":"black","strokeWidth":1.8,"clip":true},"encoding":{"x":{"field":"b0","type":"quantitative","scale":{"domain":[389.72,802.28],"nice":false,"zero":false},"axis":{"orient":"bottom","values":[400,500,600,700,800],"labelExpr":"datum.value%200==0?datum.label:''","title":null,"labelPadding":17}},"x2":{"field":"b1"},"y":{"field":"n","type":"quantitative","scale":{"domain":[0,10.5],"nice":false,"zero":true},"axis":null},"y2":{"datum":0}}},
  {"data":{"name":"d"},"mark":{"type":"rule","color":"black","strokeWidth":1,"clip":true},"encoding":{"x":{"field":"TV","type":"quantitative","scale":{"domain":[389.72,802.28],"nice":false,"zero":false},"axis":{"orient":"bottom","values":[400,500,600,700,800],"labelExpr":"datum.value%200==0?datum.label:''","title":null,"labelPadding":17}},"y":{"datum":0,"type":"quantitative","scale":{"domain":[0,10.5],"nice":false,"zero":true},"axis":null},"y2":{"datum":0.315}}}
 ]},
 {"data":{"name":"d"},"transform":[{"density":"TV","bandwidth":63.68,"extent":[389.72,802.28],"steps":200,"as":["TV","dens"]}],"mark":{"type":"line","color":"black","strokeWidth":1.8,"clip":true},"encoding":{"x":{"field":"TV","type":"quantitative","scale":{"domain":[389.72,802.28],"nice":false,"zero":false},"axis":{"orient":"bottom","values":[400,500,600,700,800],"labelExpr":"datum.value%200==0?datum.label:''","title":null,"labelPadding":17}},"y":{"field":"dens","type":"quantitative","scale":{"zero":true,"nice":false,"range":[126,42]},"axis":null}}},
 {"data":{"name":"d"},"mark":{"type":"point","opacity":0},"encoding":{"y":{"field":"TV","type":"quantitative","scale":{"domain":[389.72,802.28],"nice":false,"zero":false},"axis":{"orient":"right","values":[400,500,600,700,800],"labelExpr":"datum.value%200==0?datum.label:''","labelAngle":270,"labelAlign":"center","labelBaseline":"top","title":null,"labelPadding":14}}}},
 {"data":{"name":"lab"},"transform":[{"filter":"datum.p=='TV'"}],"mark":{"type":"text","fontSize":40,"baseline":"alphabetic","dy":-27,"color":"black"},"encoding":{"text":{"field":"t"}}}
]}
]
}
